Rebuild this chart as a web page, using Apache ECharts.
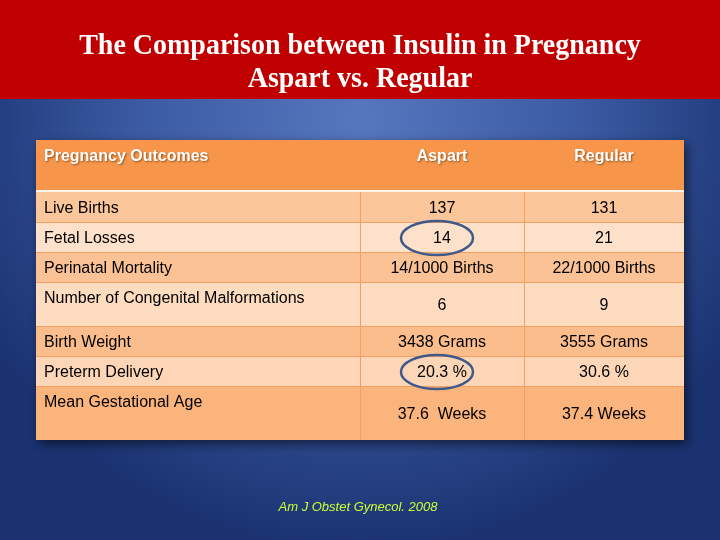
<!DOCTYPE html>
<html>
<head>
<meta charset="utf-8">
<script src="https://cdn.jsdelivr.net/npm/echarts@6/dist/echarts.min.js"></script>
<style>html,body{margin:0;padding:0;background:#1b3473;}#c{width:720px;height:540px;}</style>
</head>
<body>
<div id="c"></div>
<script>
// ---- data ----
var titleLines = ['The Comparison between Insulin in Pregnancy', 'Aspart vs. Regular'];
var headers = ['Pregnancy Outcomes', 'Aspart', 'Regular'];
var outcomes = ['Live Births', 'Fetal Losses', 'Perinatal Mortality', 'Number of Congenital Malformations', 'Birth Weight', 'Preterm Delivery', 'Mean Gestational Age'];
var aspart = ['137', '14', '14/1000 Births', '6', '3438 Grams', '20.3 %', '37.6  Weeks'];
var regular = ['131', '21', '22/1000 Births', '9', '3555 Grams', '30.6 %', '37.4 Weeks'];
var circledAspart = ['Fetal Losses', 'Preterm Delivery'];
var citation = 'Am J Obstet Gynecol. 2008';

// ---- layout / style ----
var colEdges = [36, 360, 524, 684];
var headerTop = 140, headerBottom = 190, bodyTop = 192;
var rowHeights = [30, 30, 30, 44, 30, 30, 54];
var rowColors = ['#fbc69a', '#fde1ca', '#fbc295', '#fddcc0', '#fbbd8b', '#fcd6b6', '#fbb47c'];
var headerColor = '#f7954a';
var lineColor = '#f2a064';
var font = '"Liberation Sans", Arial, sans-serif';
var titleFont = 'bold 29px "Liberation Serif", "Times New Roman", serif';

var rowTops = [];
(function () { var y = bodyTop; for (var i = 0; i < rowHeights.length; i++) { rowTops.push(y); y += rowHeights[i]; } })();
var bodyBottom = rowTops[rowTops.length - 1] + rowHeights[rowHeights.length - 1];

var chart = echarts.init(document.getElementById('c'), null, {renderer: 'canvas'});

function headerRender(params, api) {
  var p0 = api.coord([colEdges[0], headerTop]);
  var p1 = api.coord([colEdges[3], headerBottom]);
  var pw = api.coord([colEdges[3], bodyTop]);
  var children = [
    {type: 'rect', shape: {x: p0[0], y: p0[1], width: p1[0] - p0[0], height: api.coord([0, bodyBottom])[1] - p0[1]},
     style: {fill: '#fbb47c', shadowBlur: 10, shadowOffsetX: 3, shadowOffsetY: 4, shadowColor: 'rgba(0,0,0,0.55)'}},
    {type: 'rect', shape: {x: p0[0], y: p0[1], width: p1[0] - p0[0], height: p1[1] - p0[1]}, style: {fill: headerColor}},
    {type: 'rect', shape: {x: p0[0], y: p1[1], width: p1[0] - p0[0], height: pw[1] - p1[1]}, style: {fill: '#fff6ee'}}
  ];
  var centers = [null, (colEdges[1] + colEdges[2]) / 2, (colEdges[2] + colEdges[3]) / 2];
  for (var c = 0; c < 3; c++) {
    var tx = c === 0 ? api.coord([colEdges[0] + 8, 0])[0] : api.coord([centers[c], 0])[0];
    children.push({type: 'text', x: tx, y: api.coord([0, headerTop + 17])[1],
      style: {text: headers[c], fill: '#ffffff', font: 'bold 16px ' + font, align: c === 0 ? 'left' : 'center', verticalAlign: 'middle',
        textShadowColor: 'rgba(80,40,0,0.6)', textShadowBlur: 2, textShadowOffsetX: 1, textShadowOffsetY: 1}});
  }
  return {type: 'group', children: children};
}

function bodyRender(params, api) {
  var i = api.value(0);
  var top = rowTops[i], h = rowHeights[i];
  var a = api.coord([colEdges[0], top]);
  var b = api.coord([colEdges[3], top + h]);
  var children = [
    {type: 'rect', shape: {x: a[0], y: a[1], width: b[0] - a[0], height: b[1] - a[1]}, style: {fill: rowColors[i]}}
  ];
  if (i > 0) {
    children.push({type: 'line', shape: {x1: a[0], y1: a[1] + 0.5, x2: b[0], y2: a[1] + 0.5}, style: {stroke: lineColor, lineWidth: 1}});
  }
  for (var k = 1; k <= 2; k++) {
    var vx = Math.round(api.coord([colEdges[k], 0])[0]) + 0.5;
    children.push({type: 'line', shape: {x1: vx, y1: a[1], x2: vx, y2: b[1]}, style: {stroke: lineColor, lineWidth: 1}});
  }
  children.push({type: 'text', x: api.coord([colEdges[0] + 8, 0])[0], y: api.coord([0, top + 17])[1],
    style: {text: outcomes[i], fill: '#000000', font: '16px ' + font, align: 'left', verticalAlign: 'middle'}});
  var cy = api.coord([0, top + h / 2 + 2])[1];
  var cxA = api.coord([(colEdges[1] + colEdges[2]) / 2, 0])[0];
  var cxR = api.coord([(colEdges[2] + colEdges[3]) / 2, 0])[0];
  children.push({type: 'text', x: cxA, y: cy, style: {text: aspart[i], fill: '#000000', font: '16px ' + font, align: 'center', verticalAlign: 'middle'}});
  children.push({type: 'text', x: cxR, y: cy, style: {text: regular[i], fill: '#000000', font: '16px ' + font, align: 'center', verticalAlign: 'middle'}});
  if (circledAspart.indexOf(outcomes[i]) >= 0) {
    children.push({type: 'ellipse', shape: {cx: cxA - 5, cy: cy - 1, rx: 36, ry: 17},
      style: {fill: null, stroke: '#3f5a8a', lineWidth: 2.5}, z2: 10});
  }
  return {type: 'group', children: children};
}

chart.setOption({
  animation: false,
  graphic: [
    {type: 'rect', z: -10, shape: {x: 0, y: 0, width: 720, height: 540},
     style: {fill: new echarts.graphic.RadialGradient(0.5, 0.22, 0.8, [
       {offset: 0, color: '#5676be'}, {offset: 0.5, color: '#3b5ba4'}, {offset: 1, color: '#1a3270'}])}},
    {type: 'rect', z: -9, shape: {x: 0, y: 0, width: 720, height: 99}, style: {fill: '#c00000'}},
    {type: 'text', z: 5, x: 360, y: 47, scaleX: 0.965, style: {text: titleLines[0], fill: '#ffffff', font: titleFont, align: 'center', verticalAlign: 'middle'}},
    {type: 'text', z: 5, x: 360, y: 80, scaleX: 0.965, style: {text: titleLines[1], fill: '#ffffff', font: titleFont, align: 'center', verticalAlign: 'middle'}},
    {type: 'text', z: 5, x: 358, y: 507, style: {text: citation, fill: '#ccff33', font: 'italic 13px ' + font, align: 'center', verticalAlign: 'middle'}}
  ],
  grid: {left: 0, right: 0, top: 0, bottom: 0},
  xAxis: {type: 'value', min: 0, max: 720, show: false},
  yAxis: {type: 'value', min: 0, max: 540, inverse: true, show: false},
  series: [
    {type: 'custom', renderItem: headerRender, data: [[0]], z: 2, silent: true},
    {type: 'custom', renderItem: bodyRender, data: outcomes.map(function (_, i) { return [i]; }), z: 3, silent: true}
  ]
});
</script>
</body>
</html>
